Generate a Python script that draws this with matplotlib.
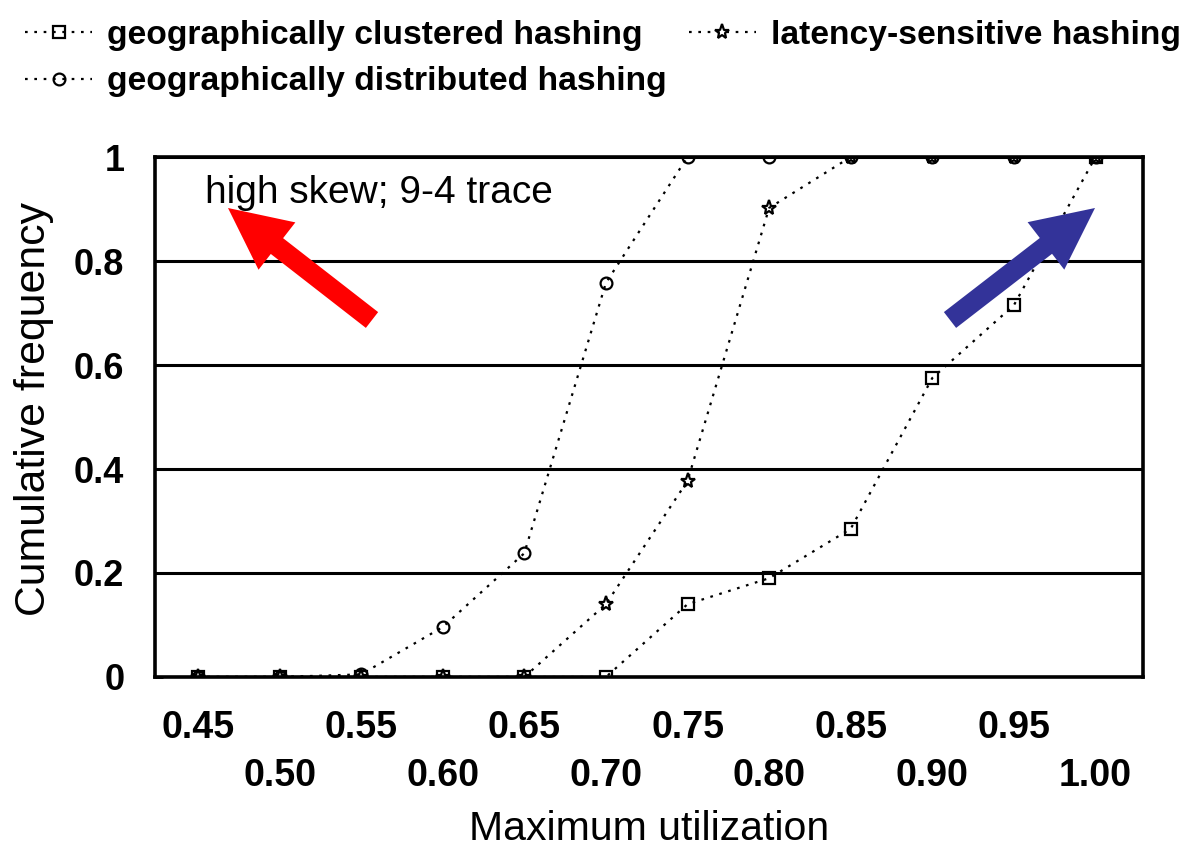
import matplotlib

matplotlib.use("Agg")

import matplotlib.pyplot as plt
from matplotlib.patches import FancyArrow
from matplotlib.ticker import FixedLocator
from matplotlib.transforms import IdentityTransform

plt.rcParams["font.family"] = ["Liberation Sans", "DejaVu Sans"]

# Cumulative frequency of maximum utilization, one value per bin
utilization = [0.45, 0.50, 0.55, 0.60, 0.65, 0.70, 0.75, 0.80, 0.85, 0.90, 0.95, 1.00]
clustered = [0.0, 0.0, 0.0, 0.0, 0.0, 0.0, 0.14, 0.19, 0.285, 0.575, 0.715, 1.0]
distributed = [0.0, 0.0, 0.005, 0.096, 0.238, 0.758, 1.0, 1.0, 1.0, 1.0, 1.0, 1.0]
latency = [0.0, 0.0, 0.0, 0.0, 0.0, 0.14, 0.377, 0.902, 1.0, 1.0, 1.0, 1.0]

y_ticks = [0.0, 0.2, 0.4, 0.6, 0.8, 1.0]
y_tick_labels = ["0", "0.2", "0.4", "0.6", "0.8", "1"]

W, H = 1188, 855
fig = plt.figure(figsize=(W / 100, H / 100), dpi=100)
ax = fig.add_axes([155 / W, 1 - 677 / H, 988 / W, 520 / H])

line_kw = dict(color="black", linestyle=(0, (1.2, 3)), linewidth=1.6,
               markersize=8.5, markerfacecolor="none", markeredgewidth=1.6)
ax.plot(utilization, clustered, marker="s",
        label="geographically clustered hashing", **line_kw)
ax.plot(utilization, distributed, marker="o",
        label="geographically distributed hashing", **line_kw)
ax.plot(utilization, latency, marker="*",
        label="latency-sensitive hashing", **{**line_kw, "markersize": 11})

ax.set_xlim(0.4237, 1.0291)
ax.set_ylim(0, 1)

# staggered x labels: odd bins on the upper row, even bins lower
ax.xaxis.set_major_locator(FixedLocator(utilization[0::2]))
ax.xaxis.set_minor_locator(FixedLocator(utilization[1::2]))
ax.set_xticklabels([f"{v:.2f}" for v in utilization[0::2]])
ax.set_xticklabels([f"{v:.2f}" for v in utilization[1::2]], minor=True)
ax.tick_params(axis="x", which="major", length=0, pad=24, labelsize=27)
ax.tick_params(axis="x", which="minor", length=0, pad=58, labelsize=27)
for lab in ax.get_xticklabels(which="both"):
    lab.set_fontweight("bold")

ax.set_yticks(y_ticks)
ax.set_yticklabels(y_tick_labels, fontweight="bold")
ax.tick_params(axis="y", direction="in", length=6, width=2, pad=22,
               labelsize=26)
ax.yaxis.grid(True, color="black", linewidth=2.2)

for spine in ax.spines.values():
    spine.set_linewidth(2.6)

ax.set_xlabel("Maximum utilization", fontsize=29.5, labelpad=12)
ax.set_ylabel("Cumulative frequency", fontsize=30.8)
ax.yaxis.set_label_coords(-0.102, 0.515)

ax.text(0.051, 0.965, "high skew; 9-4 trace", transform=ax.transAxes,
        fontsize=28, va="top", ha="left")

fig.legend(loc="upper left", bbox_to_anchor=(0.004, 1.0), ncol=2,
           frameon=False, prop=dict(size=24.2, weight="bold"),
           handlelength=2.0, handletextpad=0.45, columnspacing=0.65,
           labelspacing=0.45, borderaxespad=0.2)

# direction hints drawn in pixel space
arrow_kw = dict(width=20, head_width=60, head_length=62,
                length_includes_head=True, transform=IdentityTransform(),
                linewidth=0)
fig.add_artist(FancyArrow(372, H - 320, 228 - 372, 320 - 208,
                          color="#ff0000", **arrow_kw))
fig.add_artist(FancyArrow(950, H - 320, 1095 - 950, 320 - 208,
                          color="#333399", **arrow_kw))

fig.savefig("out.png", dpi=100)
plt.close(fig)
